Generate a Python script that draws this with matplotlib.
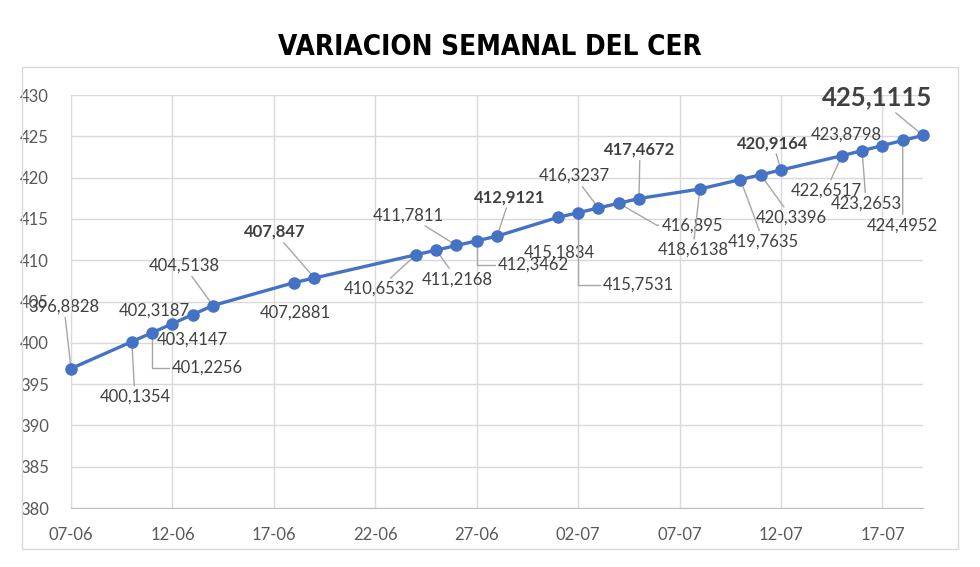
import pandas as pd
import matplotlib
matplotlib.use('Agg')
import matplotlib.pyplot as plt
import matplotlib.dates as mdates
from matplotlib.patches import Rectangle

plt.rcParams['font.family'] = ['Lato', 'DejaVu Sans']

# Data (DD-MM)
dates = ['07-06', '10-06', '11-06', '12-06', '13-06', '14-06', '18-06', '19-06',
         '24-06', '25-06', '26-06', '27-06', '28-06', '01-07', '02-07', '03-07',
         '04-07', '05-07', '08-07', '10-07', '11-07', '12-07', '15-07', '16-07',
         '17-07', '18-07', '19-07']
cer = [396.8828, 400.1354, 401.2256, 402.3187, 403.4147, 404.5138, 407.2881, 407.847,
       410.6532, 411.2168, 411.7811, 412.3462, 412.9121, 415.1834, 415.7531, 416.3237,
       416.895, 417.4672, 418.6138, 419.7635, 420.3396, 420.9164, 422.6517, 423.2653,
       423.8798, 424.4952, 425.1115]
y_ticks = [380, 385, 390, 395, 400, 405, 410, 415, 420, 425, 430]

# label placement (pixel offsets), leader style and weight
label_offsets = [(-7, 62), (3, -55), (55, -35), (-18, 13), (0, -25), (-29, 40), (1, -30),
                 (-40, 46), (-37, -34), (21, -29), (-48, 30), (57, -24), (13, 39), (1, -35),
                 (60, -72), (-24, 32), (74, -22), (1, 49), (-7, -61), (23, -62), (31, -43),
                 (-8, 27), (-16, -35), (4, -53), (-36, 11), (0, -85), (-46, 38)]
leaders = ['s', 's', 'e', '', '', 's', '', 's', 's', 's', 's', 'e', 's', '',
           'e', 's', 'd', 's', 's', 's', 's', 's', 's', 's', '', 's', 's']
bold_labels = {'19-06', '28-06', '05-07', '12-07', '19-07'}

x = pd.to_datetime([d + '-2023' for d in dates], format='%d-%m-%Y')

fig = plt.figure(figsize=(9.8, 5.67), dpi=100)
ax = fig.add_axes([71 / 980, 1 - 508 / 567, (923 - 71) / 980, (508 - 95) / 567])

# chart border and title
fig.patches.append(Rectangle((22 / 980, 1 - 549 / 567), 936 / 980, 482 / 567,
                             transform=fig.transFigure, fill=False,
                             edgecolor='#d9d9d9', linewidth=1))
fig.text(0.5, 1 - 47 / 567, 'VARIACION SEMANAL DEL CER', ha='center', va='center',
         fontsize=20, fontweight='bold', color='black', family='DejaVu Sans',
         fontstretch='condensed')

ax.plot(x, cer, color='#4472C4', linewidth=2.4, marker='o', markersize=8,
        zorder=3, clip_on=False)

line_kw = dict(arrowstyle='-', color='#a6a6a6', lw=1, shrinkA=1, shrinkB=0)
for xi, v, d, off, ld in zip(x, cer, dates, label_offsets, leaders):
    label = f'{v:.4f}'.rstrip('0').replace('.', ',')
    size = 12
    weight = 'normal'
    if d in bold_labels:
        weight = 'bold'
    if d == dates[-1]:
        size = 18.5
    arrow = None
    if ld == 's':
        arrow = dict(line_kw)
    elif ld == 'e':
        arrow = dict(line_kw, relpos=(0, 0.5),
                     connectionstyle='angle,angleA=180,angleB=90,rad=0')
    elif ld == 'd':
        arrow = dict(line_kw, relpos=(0, 0.5),
                     connectionstyle='angle,angleA=180,angleB=-30,rad=0')
    ax.annotate(label, (xi, v), xytext=off, textcoords='offset pixels',
                ha='center', va='center', fontsize=size, fontweight=weight,
                color='#404040', arrowprops=arrow, zorder=2.5,
                bbox=dict(boxstyle='square,pad=0.1', fc='none', ec='none'),
                annotation_clip=False)

ax.set_ylim(380, 430)
ax.set_yticks(y_ticks)
ax.set_xlim(x[0], x[-1])
ax.set_xticks(pd.date_range(x[0], x[-1], freq='5D'))
ax.xaxis.set_major_formatter(mdates.DateFormatter('%d-%m'))

ax.grid(True, color='#d9d9d9', linewidth=1)
ax.set_axisbelow(True)
for s in ['top', 'right']:
    ax.spines[s].set_visible(False)
ax.spines['left'].set_color('#d9d9d9')
ax.spines['bottom'].set_color('#bfbfbf')
ax.tick_params(axis='both', length=0, labelsize=12, labelcolor='#595959')
ax.tick_params(axis='y', pad=16)
ax.tick_params(axis='x', pad=14)

fig.savefig('out.png', dpi=100)
